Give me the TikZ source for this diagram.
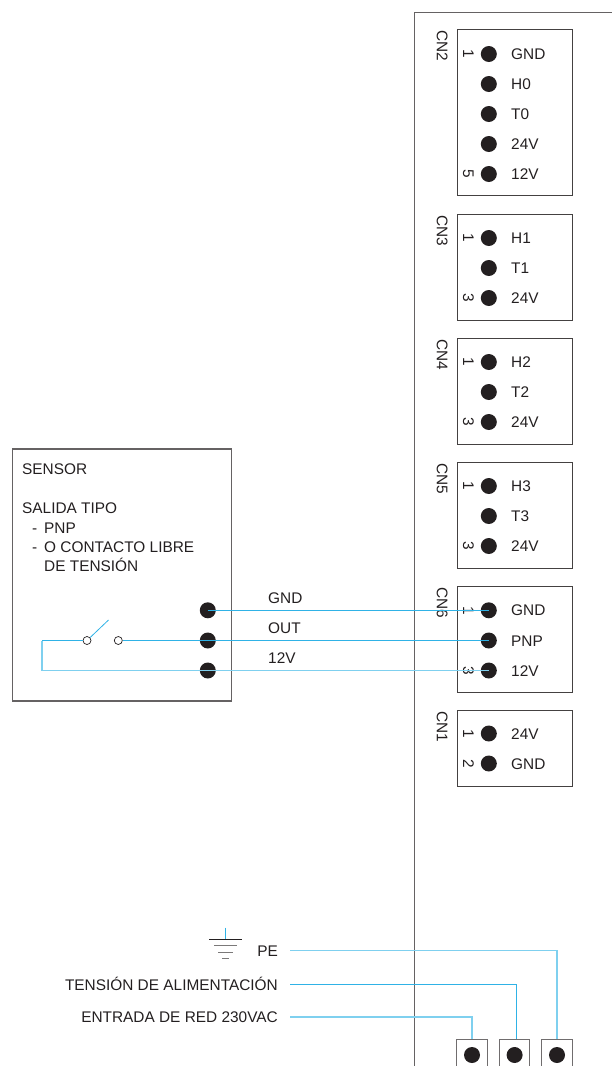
\documentclass[tikz,border=0pt]{standalone}
\usepackage{fontspec}
\setmainfont{Liberation Sans}
\definecolor{wireA}{HTML}{2FB2E6}
\definecolor{wireB}{HTML}{7FD0EF}
\definecolor{ink}{HTML}{231F20}
\tikzset{
  boxline/.style={draw=ink!85,line width=1pt},
  frameline/.style={draw=ink!70,line width=1.1pt},
  pin/.style={circle,fill=ink,minimum size=16pt,inner sep=0pt},
  term/.style={circle,draw=ink,fill=white,line width=.7pt,minimum size=8pt,inner sep=0pt},
  lab/.style={anchor=base west,font=\fontsize{15.4}{17}\selectfont,text=ink,inner sep=0pt},
  rlab/.style={anchor=base east,font=\fontsize{15.4}{17}\selectfont,text=ink,inner sep=0pt},
  cn/.style={rotate=-90,anchor=base west,font=\fontsize{15.4}{17}\selectfont,text=ink,inner sep=0pt},
  num/.style={rotate=-90,anchor=base,font=\fontsize{15.4}{17}\selectfont,text=ink,inner sep=0pt},
  wire/.style={draw=wireA,line width=1pt},
  wirel/.style={draw=wireB,line width=1.4pt},
  mains/.style={draw=ink!65,line width=1.2pt,minimum width=30.5pt,minimum height=40pt,inner sep=0pt},
}
\begin{document}
\begin{tikzpicture}[x=1pt,y=-1pt]
\useasboundingbox (0,0) rectangle (612,1066);
% main frame
\draw[frameline] (612,12.8) -- (414.5,12.8) -- (414.5,1066);
% connector boxes
\draw[boxline] (457.5,29.5) rectangle (572.5,195.5);
\draw[boxline] (457.5,214.5) rectangle (572.5,320);
\draw[boxline] (457.5,338.5) rectangle (572.5,444);
\draw[boxline] (457.5,462.5) rectangle (572.5,568);
\draw[boxline] (457.5,586.5) rectangle (572.5,692);
\draw[boxline] (457.5,710.5) rectangle (572.5,786);
\node[cn] at (436.8,30) {CN2};
\node[cn] at (436.8,215) {CN3};
\node[cn] at (436.8,339) {CN4};
\node[cn] at (436.8,463) {CN5};
\node[cn] at (436.8,587) {CN6};
\node[cn] at (436.8,711) {CN1};
% pins
\foreach \n/\y/\t in {a1/54/GND,a2/84/H0,a3/114/T0,a4/144/24V,a5/174/12V,
  b1/238/H1,b2/268/T1,b3/298/24V,
  c1/362/H2,c2/392/T2,c3/422/24V,
  d1/486/H3,d2/516/T3,d3/546/24V,
  e1/610.3/GND,e2/640.5/PNP,e3/670.5/12V,
  f1/733.5/24V,f2/763.5/GND}{
  \node[pin] (\n) at (488.8,\y) {};
  \node[lab] (\n t) at (511,\y+5.5) {\t};
}
\foreach \n/\y/\t in {na/54/1,nb/174/5,nc/238/1,nd/298/3,ne/362/1,nf/422/3,ng/486/1,nh/546/3,ni/610.3/1,nj/670.5/3,nk/733.5/1,nl/763.5/2}{
  \node[num] (\n) at (463,\y) {\t};
}
% sensor
\draw[frameline] (12.5,449) rectangle (231.5,701);
\node[lab] (s1) at (22,474.5) {SENSOR};
\node[lab] (s2) at (22,513.2) {SALIDA TIPO};
\node[lab] (d3) at (32,533.2) {-};
\node[lab] (s3) at (44,533.2) {PNP};
\node[lab] (d4) at (32,552.2) {-};
\node[lab] (s4) at (44,552.2) {O CONTACTO LIBRE};
\node[lab] (s5) at (44,571.2) {DE TENSIÓN};
\node[pin] (p1) at (207.8,610.3) {};
\node[pin] (p2) at (207.8,640.5) {};
\node[pin] (p3) at (207.8,670.5) {};
\node[term] (t1) at (87,640.5) {};
\node[term] (t2) at (118.3,640.5) {};
\coordinate (blade) at (108.5,620);
\coordinate (bend1) at (42,640.5);
\coordinate (bend2) at (42,670.5);
\node[lab] (lg) at (268,603.5) {GND};
\node[lab] (lo) at (268,633.5) {OUT};
\node[lab] (lv) at (268,663.5) {12V};
% wires
\draw[wire] (p1.center) -- (e1.center);
\draw[wire] (t2) -- (p2.center) -- (e2.center);
\draw[wire] (t1) -- (bend1);
\draw[wirel] (bend1) -- (bend2) -- (p3.center) -- (e3.center);
\draw[wire,line width=.8pt] (t1) -- (blade);
% mains terminals
\node[mains] (m1) at (472,1059.3) {};
\node[mains] (m2) at (514.6,1059.3) {};
\node[mains] (m3) at (557,1059.3) {};
\node[pin] (q1) at (472,1055) {};
\node[pin] (q2) at (514.6,1055) {};
\node[pin] (q3) at (557,1055) {};
\node[rlab] (pe) at (278,956.5) {PE};
\node[rlab] (ta) at (278,990) {TENSIÓN DE ALIMENTACIÓN};
\node[rlab] (er) at (278,1022.5) {ENTRADA DE RED 230VAC};
\coordinate (w1) at (290,950.7);
\coordinate (w2) at (290,984.3);
\coordinate (w3) at (290,1017);
\coordinate (m2w) at (516.3,1039.3);
\draw[wirel] (w1) -- (557,950.7) -- (m3.north);
\draw[wire] (w2) -- (516.3,984.3) -- (m2w);
\draw[wirel] (w3) -- (472,1017) -- (m1.north);
% earth symbol
\draw[wire,line width=1pt] (225,927.5) -- (225,939.3);
\draw[draw=ink,line width=.9pt] (209,939.3) -- (241.5,939.3);
\draw[draw=ink!60,line width=.9pt] (214,945.7) -- (236.7,945.7);
\draw[draw=ink!60,line width=.9pt] (218.3,952) -- (232.7,952);
\draw[draw=ink!60,line width=.9pt] (222,958.3) -- (228.7,958.3);
\end{tikzpicture}
\end{document}
